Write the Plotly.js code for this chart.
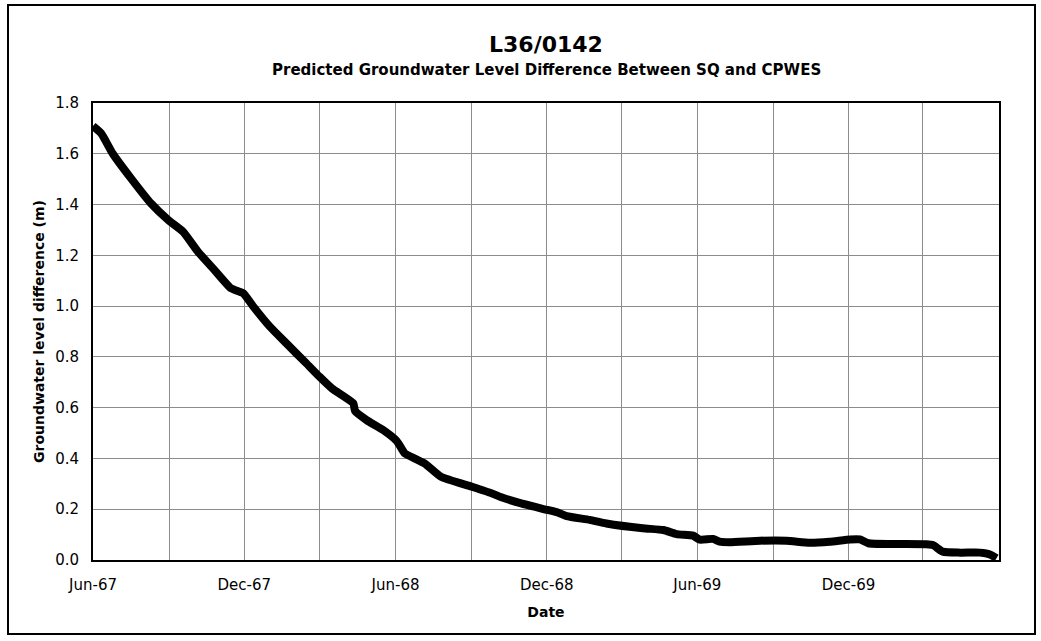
<!DOCTYPE html>
<html>
<head>
<meta charset="utf-8">
<script src="https://cdn.plot.ly/plotly-3.0.1.min.js"></script>
<style>
html,body{margin:0;padding:0;background:#fff;}
#chart{width:1041px;height:641px;}
</style>
</head>
<body>
<div id="chart"></div>
<script>
const dates = [
  "1967-06-01","1967-06-11","1967-06-25","1967-07-17","1967-08-10","1967-08-31",
  "1967-09-18","1967-10-06","1967-10-26","1967-11-15","1967-11-25","1967-11-30",
  "1967-12-12","1968-01-01","1968-01-21","1968-02-14","1968-03-01","1968-03-16",
  "1968-04-11","1968-04-13","1968-04-27","1968-05-17","1968-06-02","1968-06-10",
  "1968-06-12","1968-07-06","1968-07-26","1968-09-01","1968-09-25","1968-10-07",
  "1968-10-31","1968-12-02","1968-12-15","1968-12-25","1969-01-22","1969-02-11",
  "1969-03-27","1969-04-21","1969-05-07","1969-05-27","1969-06-04","1969-06-20",
  "1969-06-28","1969-07-10","1969-08-16","1969-09-17","1969-10-15","1969-11-08",
  "1969-12-03","1969-12-15","1969-12-25","1970-01-24","1970-03-05","1970-03-13",
  "1970-03-25","1970-04-15","1970-05-09","1970-05-21","1970-05-29"
];
const levelDiff = [
  1.709,1.680,1.600,1.503,1.405,1.339,
  1.293,1.214,1.142,1.070,1.057,1.050,
  0.998,0.919,0.853,0.775,0.722,0.676,
  0.617,0.587,0.551,0.512,0.470,0.430,
  0.420,0.381,0.328,0.289,0.263,0.247,
  0.223,0.197,0.186,0.173,0.158,0.144,
  0.125,0.118,0.102,0.096,0.080,0.083,
  0.072,0.070,0.076,0.076,0.068,0.072,
  0.081,0.081,0.066,0.063,0.062,0.059,
  0.033,0.029,0.029,0.022,0.007
];
const tickDates = ["1967-06-01","1967-12-01","1968-06-01","1968-12-01","1969-06-01","1969-12-01"];
const tickLabels = ["Jun-67","Dec-67","Jun-68","Dec-68","Jun-69","Dec-69"];
const titleText = "L36/0142";
const subtitleText = "Predicted Groundwater Level Difference Between SQ and CPWES";
const xTitle = "Date";
const yTitle = "Groundwater level difference (m)";

const FONT = "'DejaVu Sans', Arial, sans-serif";

const trace = {
  x: dates, y: levelDiff, type: "scatter", mode: "lines",
  line: {color: "#000000", width: 8, shape: "spline", smoothing: 0.5},
  hoverinfo: "skip"
};

const layout = {
  width: 1041, height: 641,
  margin: {l: 93, r: 42, t: 103, b: 81},
  paper_bgcolor: "#ffffff", plot_bgcolor: "#ffffff",
  showlegend: false,
  font: {family: FONT, color: "#000000", size: 15},
  xaxis: {
    type: "date",
    range: ["1967-06-01", "1970-06-01"],
    tickmode: "array", tickvals: tickDates, ticktext: tickLabels,
    showgrid: true, gridcolor: "#8c8c8c", gridwidth: 1,
    minor: {tickmode: "linear", dtick: "M3", tick0: "1967-06-01", showgrid: true, gridcolor: "#8c8c8c", gridwidth: 1},
    showline: true, linecolor: "#000000", linewidth: 2, mirror: true,
    ticks: "", ticklabelstandoff: 10,
    zeroline: false,
    tickfont: {family: FONT, size: 15, color: "#000"},
    title: {text: "<b>" + xTitle + "</b>", font: {family: FONT, size: 14, color: "#000"}, standoff: 14}
  },
  yaxis: {
    range: [0, 1.8], dtick: 0.2, tick0: 0,
    tickformat: ".1f",
    showgrid: true, gridcolor: "#8c8c8c", gridwidth: 1,
    showline: true, linecolor: "#000000", linewidth: 2, mirror: true,
    ticks: "", ticklabelstandoff: 9,
    zeroline: false,
    tickfont: {family: FONT, size: 15, color: "#000"},
    title: {text: "<b>" + yTitle + "</b>", font: {family: FONT, size: 14, color: "#000"}, standoff: 7}
  },
  annotations: [
    {text: "<b>" + titleText + "</b>", xref: "paper", yref: "paper",
     x: 0.5, y: (560 - 45) / 457, xanchor: "center", yanchor: "middle",
     showarrow: false, font: {family: FONT, size: 22, color: "#000"}},
    {text: "<b>" + subtitleText + "</b>", xref: "paper", yref: "paper",
     x: 0.5, y: (560 - 70) / 457, xanchor: "center", yanchor: "middle",
     showarrow: false, font: {family: FONT, size: 15, color: "#000"}}
  ],
  shapes: [
    {type: "rect", xref: "paper", yref: "paper",
     x0: (8 - 93) / 906, x1: (1035 - 93) / 906,
     y0: (560 - 634) / 457, y1: (560 - 5) / 457,
     line: {color: "#000000", width: 2}, fillcolor: "rgba(0,0,0,0)", layer: "below"}
  ]
};

Plotly.newPlot("chart", [trace], layout, {displayModeBar: false, staticPlot: true});
</script>
</body>
</html>
